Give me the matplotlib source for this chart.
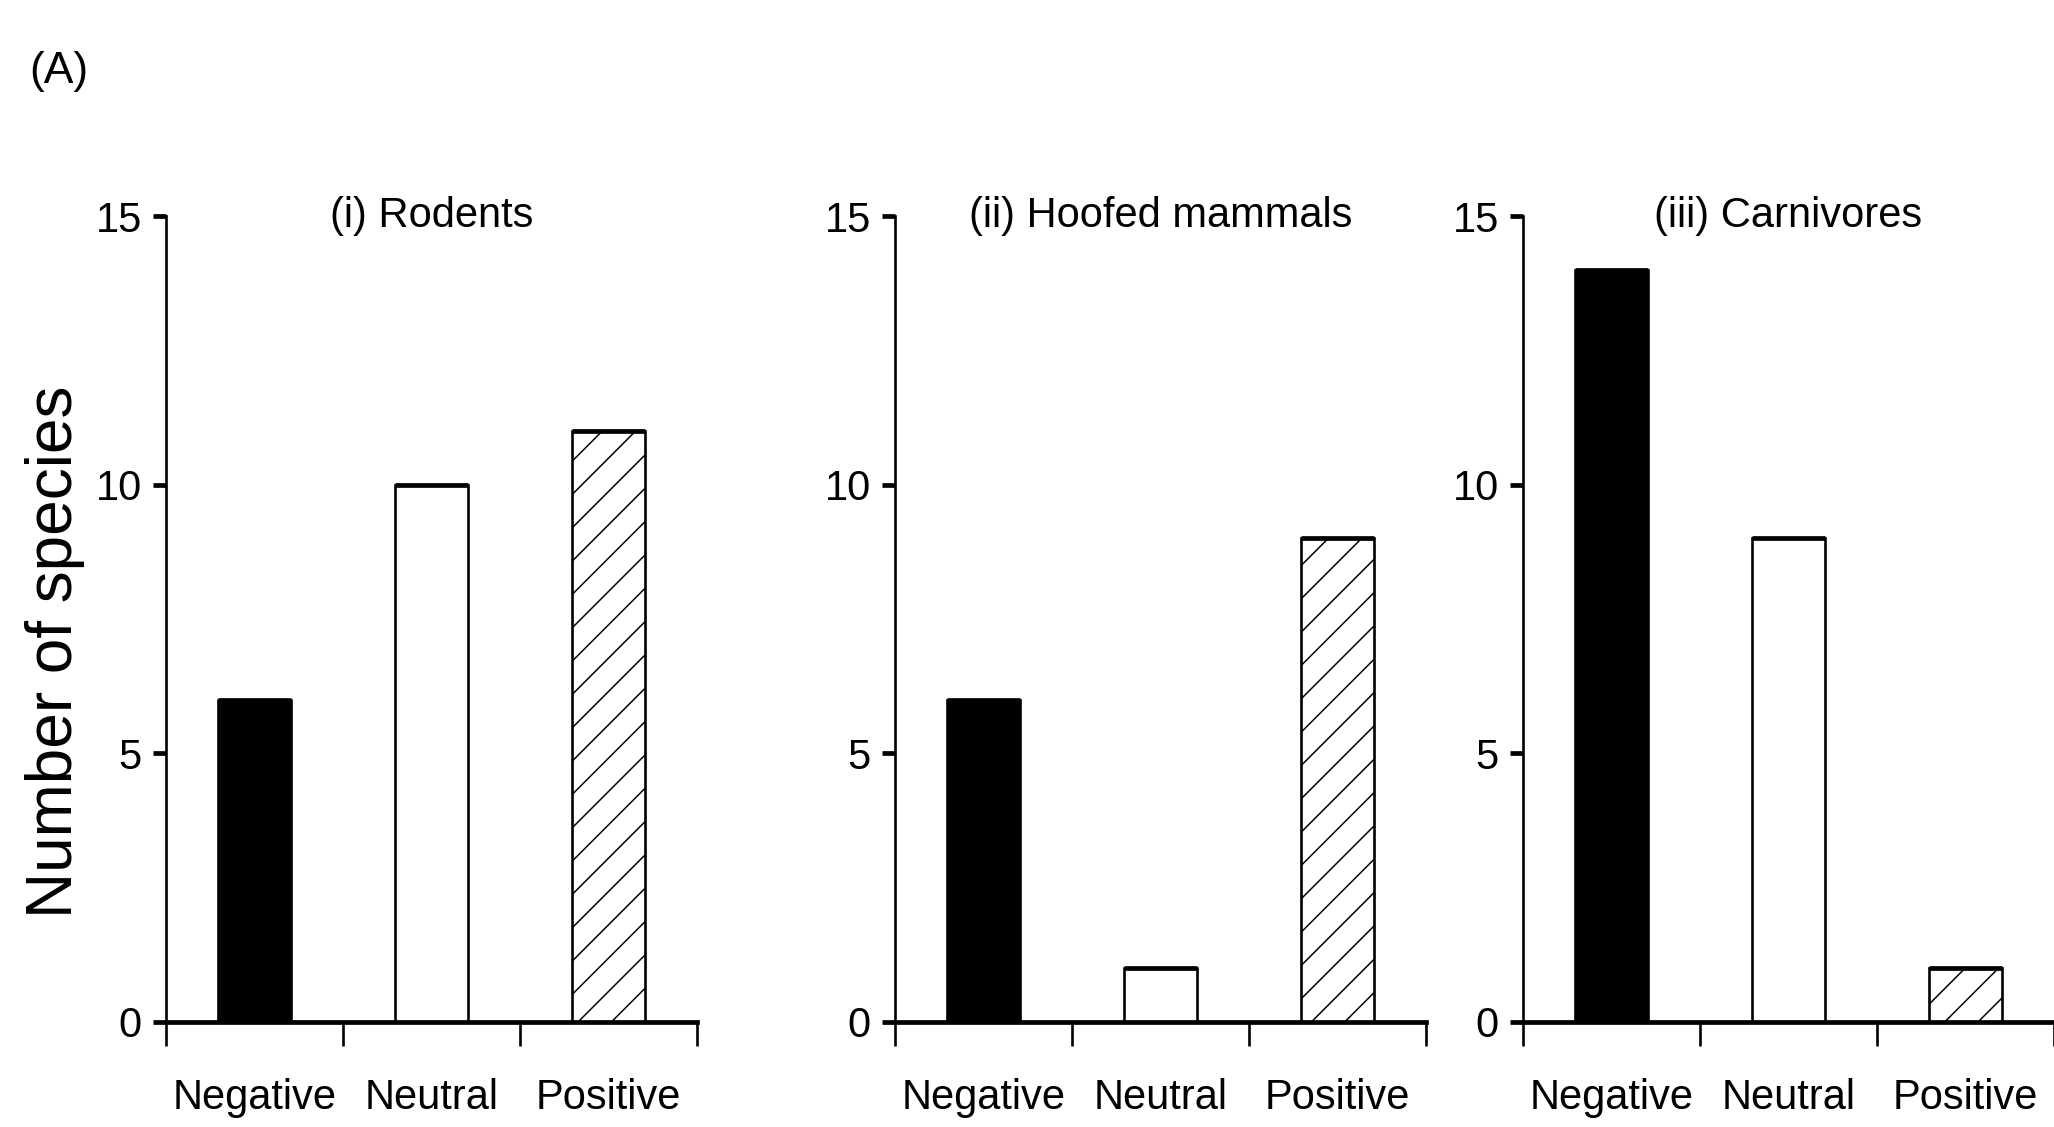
import matplotlib
matplotlib.use("Agg")
import matplotlib.pyplot as plt
import numpy as np

# data
categories = ["Negative", "Neutral", "Positive"]
panel_titles = ["(i) Rodents", "(ii) Hoofed mammals", "(iii) Carnivores"]
rodents = [6, 10, 11]
hoofed = [6, 1, 9]
carnivores = [14, 9, 1]
y_ticks = [0, 5, 10, 15]

all_values = [rodents, hoofed, carnivores]
fills = ["black", "white", "white"]
hatches = [None, None, "/"]

font = ["Liberation Sans", "DejaVu Sans"]
plt.rcParams["hatch.linewidth"] = 1.1
plt.rcParams["hatch.color"] = "black"

fig = plt.figure(figsize=(20.54, 11.27), dpi=100)

lefts = [0.0808, 0.4357, 0.7415]
width = 0.2585
bottom = 0.0932
height = 0.7151

thin = 1.9   # vertical lines
thick = 3.4  # horizontal lines look heavier in the original
bar_w = 0.41
fs = 30

pos = np.arange(len(categories)) + 0.5

for k in range(3):
    ax = fig.add_axes([lefts[k], bottom, width, height])
    vals = all_values[k]
    bars = ax.bar(pos, vals, width=bar_w, color=fills, edgecolor="black",
                  linewidth=thin, zorder=2)
    for b, h in zip(bars, hatches):
        if h:
            b.set_hatch(h)
    # heavier top edge on each bar
    ax.hlines(vals, pos - bar_w / 2, pos + bar_w / 2, colors="black",
              linewidth=thick, zorder=3)

    ax.set_xlim(0, 3)
    ax.set_ylim(0, 15)
    for s in ["top", "right"]:
        ax.spines[s].set_visible(False)
    ax.spines["left"].set_bounds(0, 15)
    ax.spines["bottom"].set_bounds(0, 3)
    ax.spines["left"].set_linewidth(thin)
    ax.spines["bottom"].set_linewidth(thick)
    ax.spines["bottom"].set_zorder(4)
    for sp in ax.spines.values():
        sp.set_clip_on(False)

    ax.set_yticks(y_ticks)
    ax.set_yticklabels([str(t) for t in y_ticks], family=font, fontsize=fs)
    ax.tick_params(axis="y", direction="out", length=9.4, width=thick, pad=8)

    ax.set_xticks([0, 1, 2, 3])
    ax.set_xticklabels([])
    ax.tick_params(axis="x", which="major", direction="out", length=17, width=thin)
    ax.set_xticks(pos, minor=True)
    ax.set_xticklabels(categories, minor=True, family=font, fontsize=fs)
    ax.tick_params(axis="x", which="minor", length=0, pad=40)

    ax.text(1.5, 15, panel_titles[k], ha="center", va="center",
            family=font, fontsize=fs)

fig.text(0.014, 1 - 72 / 1127, "(A)", ha="left", va="center",
         family=font, fontsize=32)
fig.text(0.027, 0.422, "Number of species", rotation=90, ha="center",
         va="center", family=font, fontsize=46)

fig.savefig("out.png", dpi=100)
